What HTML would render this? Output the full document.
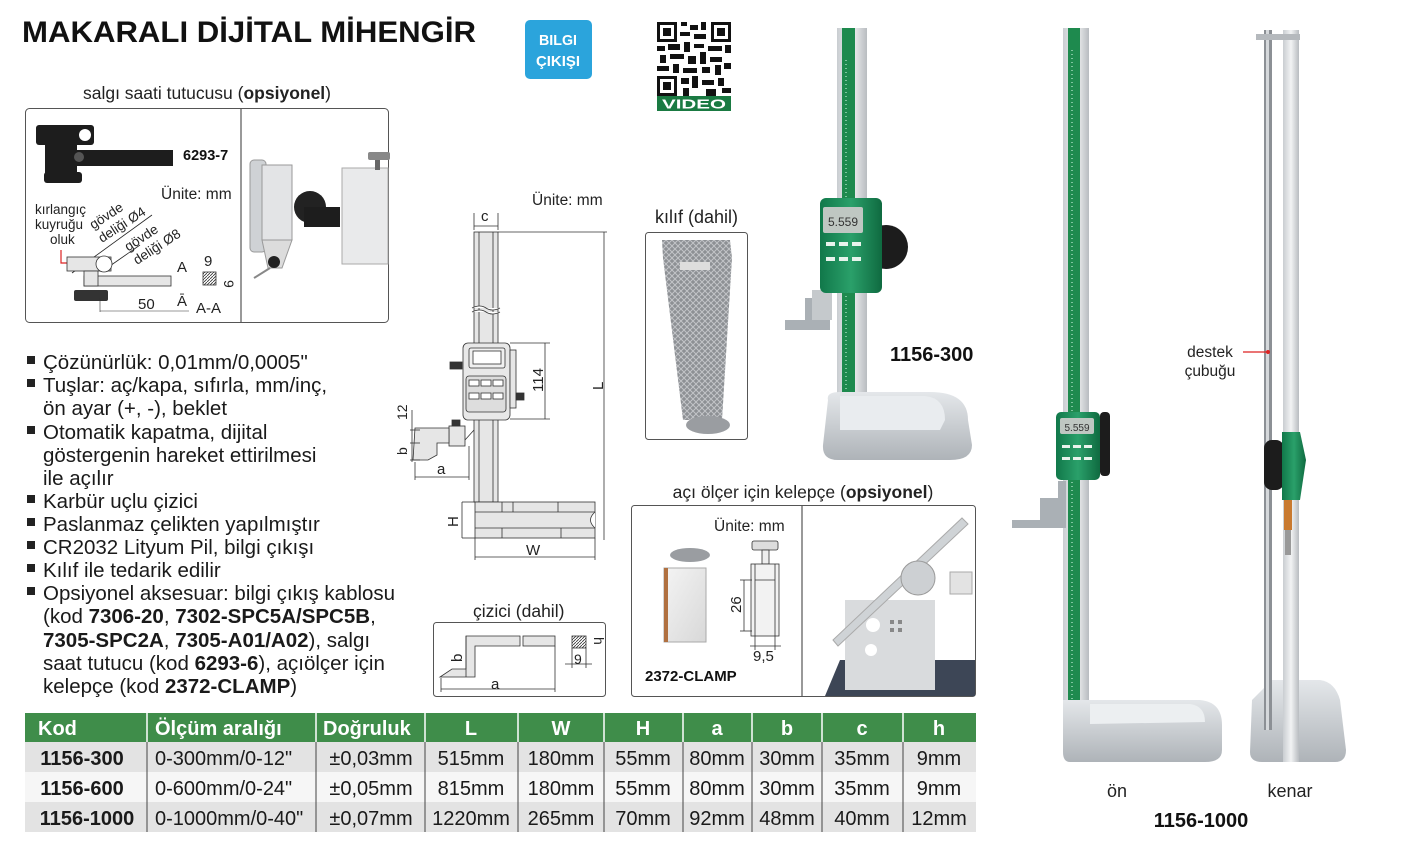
<!DOCTYPE html>
<html><head><meta charset="utf-8"><style>
html,body{margin:0;padding:0;background:#fff;}
svg{display:block;font-family:"Liberation Sans",Arial,sans-serif;}
</style></head><body>
<svg width="1413" height="851" viewBox="0 0 1413 851" xmlns="http://www.w3.org/2000/svg">
<defs>
<linearGradient id="steel" x1="0" x2="1" y1="0" y2="0"><stop offset="0" stop-color="#c9cdd1"/><stop offset=".5" stop-color="#f2f3f4"/><stop offset="1" stop-color="#b8bcc0"/></linearGradient>
<linearGradient id="base" x1="0" x2="0" y1="0" y2="1"><stop offset="0" stop-color="#e4e7ea"/><stop offset="1" stop-color="#aeb3b8"/></linearGradient>
<linearGradient id="grn" x1="0" x2="1"><stop offset="0" stop-color="#11784a"/><stop offset=".5" stop-color="#2aa06a"/><stop offset="1" stop-color="#0f6a40"/></linearGradient>
<linearGradient id="photo" x1="0" x2="1" y1="0" y2="1"><stop offset="0" stop-color="#f4f4f4"/><stop offset="1" stop-color="#d8d8d8"/></linearGradient>
<pattern id="mesh" width="6" height="6" patternUnits="userSpaceOnUse"><rect width="6" height="6" fill="#8d9094"/><path d="M0 0L6 6M6 0L0 6" stroke="#c2c4c7" stroke-width="1"/></pattern>
<pattern id="hatch" width="3" height="3" patternUnits="userSpaceOnUse"><path d="M0 3L3 0" stroke="#333" stroke-width=".8"/></pattern>
</defs>

<text x="22" y="42" font-size="30" font-weight="bold" textLength="454" lengthAdjust="spacingAndGlyphs" fill="#111">MAKARALI DİJİTAL MİHENGİR</text>

<rect x="525" y="20" width="67" height="59" rx="5" fill="#2ba4dc"/>
<text x="558" y="45" font-size="15" font-weight="bold" fill="#fff" text-anchor="middle" textLength="38" lengthAdjust="spacingAndGlyphs">BILGI</text>
<text x="558" y="66" font-size="15" font-weight="bold" fill="#fff" text-anchor="middle" textLength="44" lengthAdjust="spacingAndGlyphs">ÇIKIŞI</text>

<g>
<rect x="657" y="22" width="74" height="74" fill="#fff"/>
<g fill="#111"><rect x="657" y="22" width="20" height="20"/><rect x="711" y="22" width="20" height="20"/><rect x="657" y="76" width="20" height="20"/></g>
<g fill="#fff"><rect x="660" y="25" width="14" height="14"/><rect x="714" y="25" width="14" height="14"/><rect x="660" y="79" width="14" height="14"/></g>
<g fill="#111"><rect x="663" y="28" width="8" height="8"/><rect x="717" y="28" width="8" height="8"/><rect x="663" y="82" width="8" height="8"/>
<rect x="681" y="22" width="6" height="4"/><rect x="690" y="25" width="8" height="5"/><rect x="701" y="22" width="5" height="8"/><rect x="680" y="32" width="10" height="4"/><rect x="694" y="34" width="12" height="5"/>
<rect x="657" y="46" width="8" height="5"/><rect x="668" y="44" width="12" height="6"/><rect x="684" y="42" width="6" height="10"/><rect x="694" y="44" width="10" height="4"/><rect x="708" y="46" width="14" height="5"/><rect x="725" y="45" width="6" height="8"/>
<rect x="660" y="55" width="6" height="8"/><rect x="670" y="54" width="14" height="5"/><rect x="688" y="56" width="8" height="8"/><rect x="700" y="52" width="6" height="12"/><rect x="710" y="57" width="12" height="5"/>
<rect x="657" y="66" width="12" height="5"/><rect x="673" y="64" width="6" height="9"/><rect x="683" y="68" width="14" height="5"/><rect x="702" y="67" width="8" height="6"/><rect x="715" y="65" width="6" height="10"/><rect x="724" y="63" width="7" height="6"/>
<rect x="681" y="78" width="8" height="6"/><rect x="692" y="76" width="6" height="12"/><rect x="702" y="80" width="12" height="5"/><rect x="718" y="78" width="6" height="8"/><rect x="683" y="88" width="6" height="8"/><rect x="706" y="89" width="10" height="7"/><rect x="722" y="88" width="9" height="5"/></g>
<rect x="657" y="96" width="74" height="15" fill="#1a7a42"/>
<text x="694" y="108.5" font-size="13" font-weight="bold" fill="#fff" text-anchor="middle" textLength="64" lengthAdjust="spacingAndGlyphs">VIDEO</text>
</g>

<text x="207" y="99" font-size="17.5" text-anchor="middle" fill="#222">salgı saati tutucusu (<tspan font-weight="bold">opsiyonel</tspan>)</text>
<rect x="25.5" y="108.5" width="363" height="214" rx="4" fill="#fff" stroke="#555"/>
<line x1="241" y1="109" x2="241" y2="322" stroke="#333"/>
<g fill="#1d1d1d">
<rect x="36" y="125" width="58" height="20" rx="3"/>
<rect x="45" y="145" width="32" height="30"/>
<rect x="60" y="150" width="113" height="16"/>
<rect x="44" y="172" width="38" height="11" rx="3"/>
</g>
<circle cx="85" cy="135" r="6" fill="#fff"/>
<circle cx="79" cy="157" r="5" fill="#555"/>
<text x="183" y="160" font-size="14.5" font-weight="bold" fill="#111">6293-7</text>
<text x="161" y="199" font-size="15.5" fill="#222">Ünite: mm</text>
<text x="35" y="214" font-size="13.5" fill="#222">kırlangıç</text>
<text x="35" y="229" font-size="13.5" fill="#222">kuyruğu</text>
<text x="50" y="244" font-size="13.5" fill="#222">oluk</text>
<g transform="translate(102,243) rotate(-33)"><text x="0" y="-16" font-size="13.5" fill="#222">gövde</text><text x="0" y="0" font-size="13.5" fill="#222">deliği Ø4</text></g>
<g transform="translate(137,265) rotate(-33)"><text x="0" y="-16" font-size="13.5" fill="#222">gövde</text><text x="0" y="0" font-size="13.5" fill="#222">deliği Ø8</text></g>
<line x1="72" y1="273" x2="152" y2="215" stroke="#222" stroke-width=".8"/>
<line x1="107" y1="268" x2="140" y2="245" stroke="#222" stroke-width=".8"/>
<path d="M61 250 L61 263 L68 263" fill="none" stroke="#d22" stroke-width="1.2"/>
<rect x="67" y="257" width="44" height="14" fill="#e6e6e6" stroke="#333" stroke-width=".8"/>
<circle cx="104" cy="264" r="8" fill="#fff" stroke="#333" stroke-width=".8"/>
<rect x="84" y="276" width="87" height="10" fill="#e6e6e6" stroke="#333" stroke-width=".8"/>
<rect x="84" y="271" width="14" height="15" fill="#e6e6e6" stroke="#333" stroke-width=".8"/>
<rect x="74" y="290" width="34" height="11" rx="2" fill="#333"/>
<line x1="100" y1="298" x2="100" y2="312" stroke="#333" stroke-width=".6"/>
<line x1="100" y1="311" x2="189" y2="311" stroke="#333" stroke-width=".6"/>
<text x="138" y="309" font-size="15" fill="#222">50</text>
<text x="177" y="272" font-size="15" fill="#222">A</text>
<text x="177" y="306" font-size="15" fill="#222">Ā</text>
<rect x="203" y="272" width="13" height="13" fill="url(#hatch)" stroke="#333" stroke-width=".8"/>
<text x="204" y="266" font-size="15" fill="#222">9</text>
<text x="224" y="280" font-size="14" fill="#222" transform="rotate(90 224 280)">9</text>
<text x="196" y="313" font-size="15" fill="#222">A-A</text>
<rect x="250" y="160" width="16" height="92" rx="4" fill="#cfd2d5" stroke="#999"/>
<rect x="262" y="165" width="30" height="75" fill="#e3e4e6" stroke="#999"/>
<path d="M262 240 L292 240 L282 268 L268 268 Z" fill="#dcdcdc" stroke="#999"/>
<circle cx="274" cy="262" r="6" fill="#222"/>
<line x1="270" y1="268" x2="254" y2="278" stroke="#888" stroke-width="2"/>
<circle cx="310" cy="207" r="16" fill="#222"/>
<rect x="304" y="207" width="36" height="20" fill="#1d1d1d"/>
<rect x="342" y="168" width="46" height="96" fill="#e9eaeb" stroke="#aaa"/>
<rect x="368" y="152" width="22" height="8" rx="2" fill="#888"/>
<rect x="375" y="160" width="5" height="10" fill="#666"/>

<g font-size="20.5" fill="#1a1a1a">
<g fill="#222"><rect x="27" y="356" width="8" height="8"/><rect x="27" y="379" width="8" height="8"/><rect x="27" y="426" width="8" height="8"/><rect x="27" y="495" width="8" height="8"/><rect x="27" y="518" width="8" height="8"/><rect x="27" y="541" width="8" height="8"/><rect x="27" y="564" width="8" height="8"/><rect x="27" y="587" width="8" height="8"/></g>
<text x="43" y="369">Çözünürlük: 0,01mm/0,0005"</text>
<text x="43" y="392">Tuşlar: aç/kapa, sıfırla, mm/inç,</text>
<text x="43" y="415">ön ayar (+, -), beklet</text>
<text x="43" y="439">Otomatik kapatma, dijital</text>
<text x="43" y="462">göstergenin hareket ettirilmesi</text>
<text x="43" y="485">ile açılır</text>
<text x="43" y="508">Karbür uçlu çizici</text>
<text x="43" y="531">Paslanmaz çelikten yapılmıştır</text>
<text x="43" y="554">CR2032 Lityum Pil, bilgi çıkışı</text>
<text x="43" y="577">Kılıf ile tedarik edilir</text>
<text x="43" y="600">Opsiyonel aksesuar: bilgi çıkış kablosu</text>
<text x="43" y="623">(kod <tspan font-weight="bold">7306-20</tspan>, <tspan font-weight="bold">7302-SPC5A/SPC5B</tspan>,</text>
<text x="43" y="647"><tspan font-weight="bold">7305-SPC2A</tspan>, <tspan font-weight="bold">7305-A01/A02</tspan>), salgı</text>
<text x="43" y="670">saat tutucu  (kod <tspan font-weight="bold">6293-6</tspan>), açıölçer için</text>
<text x="43" y="693">kelepçe (kod <tspan font-weight="bold">2372-CLAMP</tspan>)</text>
</g>

<g stroke="#333" stroke-width=".8" fill="none">
<text x="532" y="205" font-size="15.5" fill="#222" stroke="none">Ünite: mm</text>
<text x="481" y="221" font-size="15" fill="#222" stroke="none">c</text>
<line x1="474" y1="213" x2="474" y2="230"/><line x1="498" y1="213" x2="498" y2="230"/><line x1="474" y1="226" x2="498" y2="226"/>
<rect x="474" y="232" width="24" height="270" fill="#e6e6e6"/>
<line x1="479" y1="232" x2="479" y2="502"/><line x1="493" y1="232" x2="493" y2="502"/>
<path d="M472 308 Q480 304 486 308 T500 308 M472 312 Q480 308 486 312 T500 312" fill="#fff"/>
<line x1="498" y1="232" x2="607" y2="232"/><line x1="604" y1="232" x2="604" y2="540"/>
<text x="603" y="390" font-size="15" fill="#222" stroke="none" transform="rotate(-90 603 390)">L</text>
<rect x="463" y="343" width="47" height="77" rx="5" fill="#e8e8e8"/>
<rect x="469" y="348" width="36" height="20" rx="2" fill="#f0f0f0"/>
<rect x="473" y="351" width="28" height="13" fill="#fff"/>
<rect x="466" y="376" width="40" height="36" rx="3" fill="#ddd"/>
<g fill="#fff"><rect x="469" y="380" width="10" height="6"/><rect x="481" y="380" width="10" height="6"/><rect x="493" y="380" width="10" height="6"/><rect x="469" y="393" width="10" height="6"/><rect x="481" y="393" width="10" height="6"/><rect x="493" y="393" width="10" height="6"/></g>
<rect x="510" y="350" width="6" height="58" fill="#e6e6e6"/>
<rect x="450" y="362" width="12" height="7" fill="#333"/>
<rect x="516" y="393" width="8" height="7" fill="#333"/>
<line x1="510" y1="343" x2="550" y2="343"/><line x1="510" y1="419" x2="550" y2="419"/><line x1="545" y1="343" x2="545" y2="419"/>
<text x="543" y="392" font-size="15" fill="#222" stroke="none" transform="rotate(-90 543 392)">114</text>
<rect x="449" y="426" width="16" height="20" fill="#e6e6e6"/>
<rect x="452" y="420" width="8" height="6" fill="#333"/>
<path d="M415 428 L449 428 L449 443 L437 443 L437 455 L428 460 L413 460 Z" fill="#e6e6e6"/>
<path d="M465 440 L474 430" />
<line x1="410" y1="430" x2="420" y2="430"/><line x1="410" y1="443" x2="420" y2="443"/><line x1="410" y1="460" x2="420" y2="460"/>
<line x1="412" y1="410" x2="412" y2="462"/>
<text x="407" y="420" font-size="14" fill="#222" stroke="none" transform="rotate(-90 407 420)">12</text>
<text x="407" y="455" font-size="14" fill="#222" stroke="none" transform="rotate(-90 407 455)">b</text>
<line x1="415" y1="462" x2="415" y2="480"/><line x1="469" y1="446" x2="469" y2="480"/><line x1="415" y1="477" x2="469" y2="477"/>
<text x="437" y="474" font-size="15" fill="#222" stroke="none">a</text>
<rect x="475" y="502" width="120" height="36" fill="#e6e6e6"/>
<line x1="475" y1="512" x2="595" y2="512"/><line x1="475" y1="528" x2="595" y2="528"/>
<line x1="502" y1="502" x2="502" y2="512"/><line x1="513" y1="502" x2="513" y2="512"/><line x1="558" y1="502" x2="558" y2="512"/><line x1="502" y1="528" x2="502" y2="538"/><line x1="561" y1="528" x2="561" y2="538"/>
<path d="M595 512 Q586 520 595 528" fill="#fff"/>
<line x1="462" y1="502" x2="475" y2="502"/><line x1="462" y1="538" x2="475" y2="538"/><line x1="462" y1="502" x2="462" y2="538"/>
<text x="458" y="527" font-size="15" fill="#222" stroke="none" transform="rotate(-90 458 527)">H</text>
<line x1="475" y1="538" x2="475" y2="560"/><line x1="595" y1="538" x2="595" y2="560"/><line x1="475" y1="557" x2="595" y2="557"/>
<text x="526" y="555" font-size="15" fill="#222" stroke="none">W</text>
</g>

<text x="655" y="223" font-size="18" fill="#222">kılıf (dahil)</text>
<rect x="645.5" y="232.5" width="102" height="207" rx="3" fill="#fff" stroke="#555"/>
<path d="M662 240 L730 240 L732 258 L722 420 L683 420 L663 258 Z" fill="url(#mesh)"/>
<ellipse cx="708" cy="425" rx="22" ry="9" fill="#9a9da1"/>
<rect x="680" y="262" width="30" height="8" fill="#ddd"/>

<text x="473" y="617" font-size="17.5" fill="#222">çizici (dahil)</text>
<rect x="433.5" y="622.5" width="172" height="74" rx="3" fill="#fff" stroke="#555"/>
<g stroke="#333" stroke-width=".8">
<path d="M466 636 L520 636 L520 646 L475 646 L475 677 L440 677 L452 669 L466 669 Z" fill="#e6e6e6"/>
<rect x="523" y="636" width="32" height="10" fill="#e6e6e6"/>
<line x1="466" y1="636" x2="466" y2="677" fill="none"/>
<line x1="441" y1="678" x2="441" y2="692"/><line x1="555" y1="646" x2="555" y2="692"/><line x1="441" y1="689" x2="555" y2="689"/>
<rect x="572" y="636" width="14" height="12" fill="url(#hatch)"/>
<line x1="572" y1="648" x2="572" y2="668"/><line x1="586" y1="648" x2="586" y2="668"/><line x1="565" y1="664" x2="592" y2="664"/>
</g>
<text x="491" y="689" font-size="15" fill="#222">a</text>
<text x="462" y="662" font-size="15" fill="#222" transform="rotate(-90 462 662)">b</text>
<text x="574" y="664" font-size="14" fill="#222">9</text>
<text x="594" y="637" font-size="14" fill="#222" transform="rotate(90 594 637)">h</text>

<text x="803" y="498" font-size="17.5" fill="#222" text-anchor="middle">açı ölçer için kelepçe (<tspan font-weight="bold">opsiyonel</tspan>)</text>
<rect x="631.5" y="505.5" width="344" height="191" rx="3" fill="#fff" stroke="#555"/>
<line x1="802" y1="506" x2="802" y2="696" stroke="#333"/>
<text x="714" y="531" font-size="15.5" fill="#222">Ünite: mm</text>
<ellipse cx="690" cy="555" rx="20" ry="7" fill="#9a9da1"/>
<rect x="664" y="568" width="42" height="74" fill="url(#photo)" stroke="#aaa"/>
<rect x="664" y="568" width="4" height="74" fill="#b07040"/>
<g stroke="#333" stroke-width=".8">
<rect x="752" y="541" width="26" height="9" rx="2" fill="#ddd"/>
<rect x="762" y="550" width="7" height="14" fill="#eee"/>
<rect x="751" y="564" width="28" height="72" fill="#f2f2f2"/>
<line x1="755" y1="580" x2="775" y2="580"/><line x1="755" y1="564" x2="755" y2="636"/><line x1="775" y1="564" x2="775" y2="636"/>
<line x1="740" y1="580" x2="752" y2="580"/><line x1="740" y1="631" x2="752" y2="631"/><line x1="744" y1="580" x2="744" y2="631"/>
<line x1="755" y1="636" x2="755" y2="650"/><line x1="775" y1="636" x2="775" y2="650"/><line x1="750" y1="646" x2="781" y2="646"/>
</g>
<text x="741" y="613" font-size="15" fill="#222" transform="rotate(-90 741 613)">26</text>
<text x="753" y="661" font-size="15" fill="#222">9,5</text>
<text x="645" y="681" font-size="15" font-weight="bold" fill="#111">2372-CLAMP</text>
<path d="M825 696 L840 660 L975 660 L975 696 Z" fill="#3d4656"/>
<path d="M845 600 L935 600 L935 690 L845 690 Z" fill="#d9dbdd"/>
<circle cx="873" cy="625" r="7" fill="#fff"/><circle cx="871" cy="650" r="6" fill="#fff"/>
<g fill="#888"><rect x="890" y="620" width="4" height="4"/><rect x="898" y="620" width="4" height="4"/><rect x="890" y="628" width="4" height="4"/><rect x="898" y="628" width="4" height="4"/></g>
<path d="M833 640 L962 518 L968 524 L838 646 Z" fill="#cfd3d6" stroke="#aaa"/>
<circle cx="918" cy="578" r="17" fill="#cdd0d3" stroke="#999"/>
<rect x="950" y="572" width="22" height="22" fill="#e3e3e3" stroke="#aaa"/>

<rect x="837" y="28" width="30" height="380" fill="url(#steel)"/>
<rect x="842" y="28" width="13" height="380" fill="#1e8a4e"/>
<path d="M846 60 L846 400" stroke="#dfe" stroke-width="1" stroke-dasharray="1 3"/>
<path d="M828 400 Q826 392 840 392 L930 392 Q968 392 968 420 L972 445 Q972 460 950 460 L838 460 Q822 460 823 445 Z" fill="url(#base)"/>
<path d="M840 396 L925 396 Q945 398 945 420 L940 430 L840 430 Z" fill="#e9ecef"/>
<path d="M785 320 L805 320 L805 298 L830 298 L830 330 L785 330 Z" fill="#aab0b5"/>
<rect x="812" y="290" width="20" height="30" fill="#c5c9cc"/>
<circle cx="886" cy="247" r="22" fill="#1c1c1c"/>
<rect x="820" y="198" width="62" height="95" rx="6" fill="url(#grn)"/>
<rect x="823" y="207" width="40" height="26" rx="2" fill="#bfc7c2"/>
<text x="843" y="226" font-size="12" fill="#333" text-anchor="middle">5.559</text>
<g fill="#e8f3ec"><rect x="826" y="242" width="9" height="4"/><rect x="839" y="242" width="9" height="4"/><rect x="852" y="242" width="9" height="4"/><rect x="826" y="257" width="9" height="4"/><rect x="839" y="257" width="9" height="4"/><rect x="852" y="257" width="9" height="4"/></g>
<text x="890" y="361" font-size="20" font-weight="bold" fill="#111">1156-300</text>

<rect x="1063" y="28" width="26" height="680" fill="url(#steel)"/>
<rect x="1068" y="28" width="12" height="680" fill="#1e8a4e"/>
<path d="M1072 50 L1072 700" stroke="#dfe" stroke-width="1" stroke-dasharray="1 3"/>
<path d="M1063 700 L1200 700 Q1222 702 1222 725 L1222 750 Q1222 762 1205 762 L1070 762 Q1063 762 1063 752 Z" fill="url(#base)"/>
<path d="M1090 704 L1190 704 Q1205 706 1205 722 L1090 724 Z" fill="#eceff1"/>
<path d="M1012 520 L1040 520 L1040 498 L1058 498 L1058 481 L1066 481 L1066 528 L1012 528 Z" fill="#aab0b5"/>
<rect x="1100" y="412" width="10" height="64" rx="4" fill="#1c1c1c"/>
<rect x="1056" y="412" width="44" height="68" rx="5" fill="url(#grn)"/>
<rect x="1060" y="418" width="34" height="16" rx="2" fill="#bfc7c2"/>
<text x="1077" y="431" font-size="10" fill="#333" text-anchor="middle">5.559</text>
<g fill="#e8f3ec"><rect x="1062" y="445" width="8" height="3"/><rect x="1073" y="445" width="8" height="3"/><rect x="1084" y="445" width="8" height="3"/><rect x="1062" y="457" width="8" height="3"/><rect x="1073" y="457" width="8" height="3"/><rect x="1084" y="457" width="8" height="3"/></g>
<text x="1117" y="797" font-size="18" fill="#222" text-anchor="middle">ön</text>

<path d="M1252 700 L1272 680 L1320 680 Q1335 682 1340 700 L1346 750 Q1346 762 1335 762 L1262 762 Q1250 762 1250 752 Z" fill="url(#base)"/>
<rect x="1264" y="30" width="8" height="700" fill="#8c9095"/>
<rect x="1266" y="30" width="3" height="700" fill="#d5d8db"/>
<rect x="1283" y="30" width="16" height="732" fill="url(#steel)"/>
<rect x="1256" y="34" width="44" height="6" fill="#b5b9bd"/>
<rect x="1264" y="440" width="20" height="50" rx="8" fill="#1c1c1c"/>
<path d="M1282 432 L1300 432 L1306 460 L1300 500 L1282 500 Z" fill="url(#grn)"/>
<rect x="1284" y="500" width="8" height="30" fill="#c97a30"/>
<rect x="1285" y="530" width="6" height="25" fill="#999"/>
<text x="1210" y="357" font-size="15.5" fill="#222" text-anchor="middle">destek</text>
<text x="1210" y="376" font-size="15.5" fill="#222" text-anchor="middle">çubuğu</text>
<line x1="1243" y1="352" x2="1268" y2="352" stroke="#d22" stroke-width="1.2"/>
<circle cx="1268" cy="352" r="2" fill="#d22"/>
<text x="1290" y="797" font-size="18" fill="#222" text-anchor="middle">kenar</text>
<text x="1201" y="827" font-size="20" font-weight="bold" fill="#111" text-anchor="middle">1156-1000</text>

<rect x="25" y="713" width="951" height="29" fill="#3f8d4a"/>
<rect x="25" y="742" width="951" height="30" fill="#e3e3e3"/>
<rect x="25" y="772" width="951" height="30" fill="#f6f6f6"/>
<rect x="25" y="802" width="951" height="30" fill="#e3e3e3"/>
<g stroke="#fff" stroke-width="1.5">
<line x1="147" y1="713" x2="147" y2="742"/><line x1="316" y1="713" x2="316" y2="742"/><line x1="425" y1="713" x2="425" y2="742"/><line x1="518" y1="713" x2="518" y2="742"/><line x1="604" y1="713" x2="604" y2="742"/><line x1="683" y1="713" x2="683" y2="742"/><line x1="752" y1="713" x2="752" y2="742"/><line x1="822" y1="713" x2="822" y2="742"/><line x1="903" y1="713" x2="903" y2="742"/>
</g>
<g stroke="#444" stroke-width="1">
<line x1="147" y1="742" x2="147" y2="832"/><line x1="316" y1="742" x2="316" y2="832"/><line x1="425" y1="742" x2="425" y2="832"/><line x1="518" y1="742" x2="518" y2="832"/><line x1="604" y1="742" x2="604" y2="832"/><line x1="683" y1="742" x2="683" y2="832"/><line x1="752" y1="742" x2="752" y2="832"/><line x1="822" y1="742" x2="822" y2="832"/><line x1="903" y1="742" x2="903" y2="832"/>
</g>
<g font-size="20" font-weight="bold" fill="#fff">
<text x="38" y="735">Kod</text>
<text x="155" y="735">Ölçüm aralığı</text>
<text x="323" y="735">Doğruluk</text>
<g text-anchor="middle"><text x="471" y="735">L</text><text x="561" y="735">W</text><text x="643" y="735">H</text><text x="717" y="735">a</text><text x="787" y="735">b</text><text x="862" y="735">c</text><text x="939" y="735">h</text></g>
</g>
<g font-size="20" fill="#1a1a1a">
<g font-weight="bold" text-anchor="middle"><text x="82" y="765">1156-300</text><text x="82" y="795">1156-600</text><text x="87" y="825">1156-1000</text></g>
<text x="155" y="765">0-300mm/0-12"</text><text x="155" y="795">0-600mm/0-24"</text><text x="155" y="825">0-1000mm/0-40"</text>
<g text-anchor="middle">
<text x="371" y="765">±0,03mm</text><text x="371" y="795">±0,05mm</text><text x="371" y="825">±0,07mm</text>
<text x="471" y="765">515mm</text><text x="471" y="795">815mm</text><text x="471" y="825">1220mm</text>
<text x="561" y="765">180mm</text><text x="561" y="795">180mm</text><text x="561" y="825">265mm</text>
<text x="643" y="765">55mm</text><text x="643" y="795">55mm</text><text x="643" y="825">70mm</text>
<text x="717" y="765">80mm</text><text x="717" y="795">80mm</text><text x="717" y="825">92mm</text>
<text x="787" y="765">30mm</text><text x="787" y="795">30mm</text><text x="787" y="825">48mm</text>
<text x="862" y="765">35mm</text><text x="862" y="795">35mm</text><text x="862" y="825">40mm</text>
<text x="939" y="765">9mm</text><text x="939" y="795">9mm</text><text x="939" y="825">12mm</text>
</g>
</g>
</svg>
</body></html>
